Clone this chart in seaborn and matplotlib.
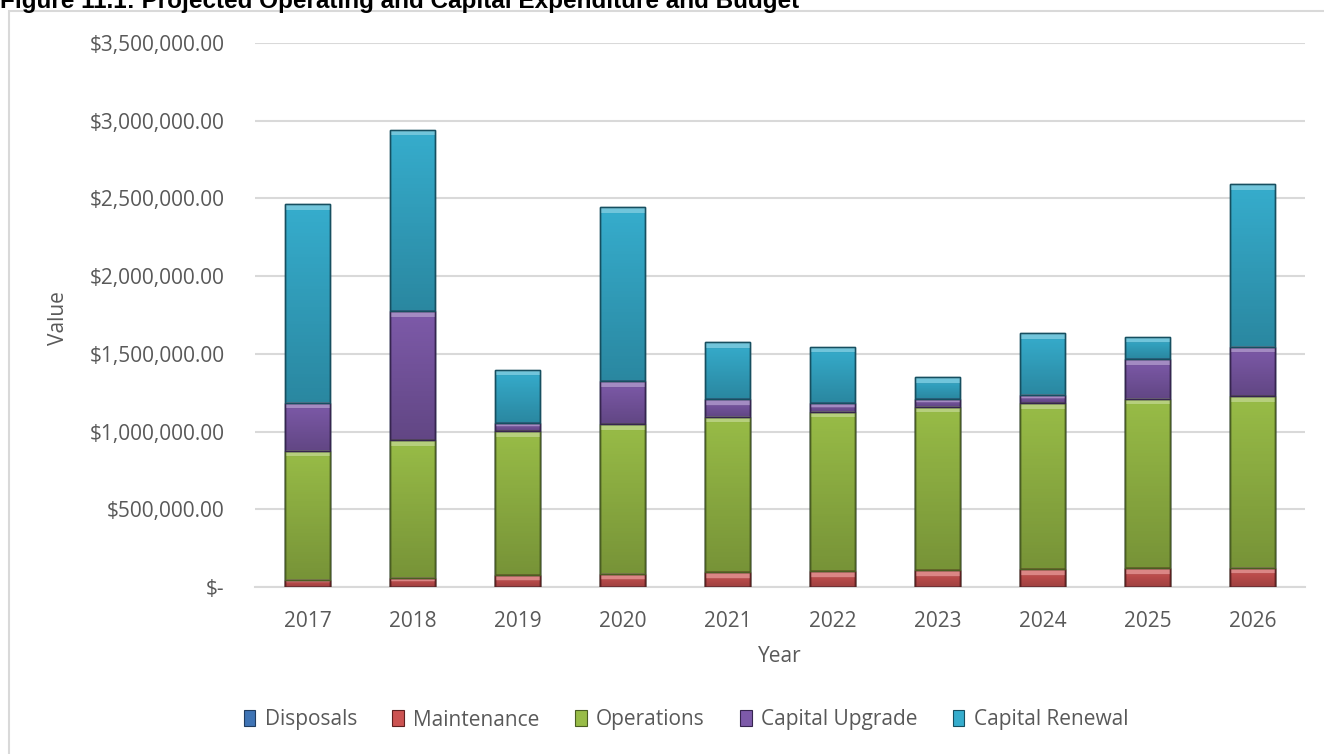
import matplotlib
matplotlib.use("Agg")
import matplotlib.pyplot as plt
from matplotlib.patches import Patch, Rectangle
from matplotlib.ticker import FuncFormatter, MultipleLocator
import numpy as np
import pandas as pd
import seaborn as sns

years = ["2017", "2018", "2019", "2020", "2021", "2022", "2023", "2024", "2025", "2026"]
disposals = [0, 0, 0, 0, 0, 0, 0, 0, 0, 0]
maintenance = [47000, 60000, 77000, 85000, 94000, 100000, 107000, 115000, 121000, 124000]
operations = [830000, 885000, 925000, 964000, 1000000, 1028000, 1053000, 1066000, 1088000, 1104000]
capital_upgrade = [310000, 828000, 51000, 275000, 115000, 53000, 49000, 57000, 255000, 319000]
capital_renewal = [1277000, 1170000, 343000, 1119000, 366000, 366000, 140000, 394000, 147000, 1045000]

series_names = ["Disposals", "Maintenance", "Operations", "Capital Upgrade", "Capital Renewal"]
series_colors = ["#3F74B5", "#CC5352", "#98BC47", "#7D5AA9", "#36ADCD"]
edge_colors = ["#213D60", "#5E2020", "#4A5E22", "#36254F", "#164F60"]

df = pd.DataFrame({
    "Year": years,
    "Disposals": disposals,
    "Maintenance": maintenance,
    "Operations": operations,
    "Capital Upgrade": capital_upgrade,
    "Capital Renewal": capital_renewal,
})
# running totals so each layer can be drawn from zero, tallest first
cum = df[series_names].cumsum(axis=1)

sns.set_theme(style="white")
plt.rcParams["font.family"] = ["Open Sans", "DejaVu Sans"]

W, H = 1324, 754
BAR_W = 0.42
fig = plt.figure(figsize=(W / 100, H / 100), dpi=100)
ax = fig.add_axes([255 / W, 1 - 587 / H, 1050 / W, 544 / H])

for name, color, ec in reversed(list(zip(series_names, series_colors, edge_colors))):
    sns.barplot(x=df["Year"], y=cum[name], color=color, width=BAR_W,
                edgecolor=ec, linewidth=1.0, saturation=1, ax=ax, zorder=3)

ax.set_ylim(0, 3500000)
ax.set_xlim(-0.5, 9.5)
ax.yaxis.set_major_locator(MultipleLocator(500000))

# soft bevel shading on every stacked segment
units_per_px = 3500000 / 544
for k, name in enumerate(series_names):
    base = cum[series_names[k - 1]] if k > 0 else pd.Series(0, index=df.index)
    for i in range(len(years)):
        y0, y1 = float(base[i]), float(cum[name][i])
        if y1 - y0 <= 0:
            continue
        n = max(int((y1 - y0) / units_per_px), 2)
        rows = np.linspace(0, 1, n)  # 0 = top, 1 = bottom
        img = np.zeros((n, 1, 4))
        img[:, 0, 3] = rows * 0.22
        top_px = min(6, n // 2)
        img[:top_px, 0, :3] = 1.0
        img[:top_px, 0, 3] = 0.3
        ax.imshow(img, extent=(i - BAR_W / 2, i + BAR_W / 2, y0, y1), aspect="auto",
                  interpolation="bilinear", zorder=4, origin="upper")
        ax.add_patch(Rectangle((i - BAR_W / 2, y0), BAR_W, y1 - y0, fill=False,
                               edgecolor=edge_colors[k], linewidth=1.0, zorder=5))

ax.set_xlim(-0.5, 9.5)
ax.set_ylim(0, 3500000)


def money(v, _):
    if abs(v) < 0.5:
        return "$-"
    return f"${v:,.2f}"


ax.yaxis.set_major_formatter(FuncFormatter(money))
ax.grid(axis="y", color="#D9D9D9", linewidth=1.5, zorder=0)
ax.set_axisbelow(True)
for s in ["top", "right", "left"]:
    ax.spines[s].set_visible(False)
ax.spines["bottom"].set_color("#D9D9D9")
ax.spines["bottom"].set_linewidth(1.5)
ax.tick_params(axis="both", length=0, labelsize=15, labelcolor="#595959")
ax.tick_params(axis="y", pad=22)
ax.tick_params(axis="x", pad=17)

ax.set_xlabel("Year", fontsize=15, color="#595959")
ax.set_ylabel("Value", fontsize=15, color="#595959")
ax.xaxis.set_label_coords(0.5, (587 - 657) / 544)
ax.xaxis.label.set_va("center")
ax.yaxis.set_label_coords((58 - 255) / 1050, (587 - 318) / 544)
ax.yaxis.label.set_va("center")

handles = [Patch(facecolor=c, edgecolor=e, linewidth=0.8) for c, e in zip(series_colors, edge_colors)]
fig.legend(handles, series_names, loc="center", bbox_to_anchor=(686 / W, 1 - 720 / H),
           ncol=5, frameon=False, fontsize=15, labelcolor="#595959",
           handlelength=0.55, handleheight=0.8, handletextpad=0.45, columnspacing=1.7)

# chart area border
fig.patches.append(Rectangle((9 / W, -0.1), 1.2, 1.1 - 11 / H, transform=fig.transFigure,
                             fill=False, edgecolor="#D9D9D9", linewidth=1.5))

fig.text(0, 1 - 8 / H, "Figure 11.1: Projected Operating and Capital Expenditure and Budget",
         fontsize=17.5, fontweight="bold", family=["Liberation Sans", "DejaVu Sans"],
         va="baseline", ha="left", color="#000000")

fig.savefig("out.png", dpi=100)
